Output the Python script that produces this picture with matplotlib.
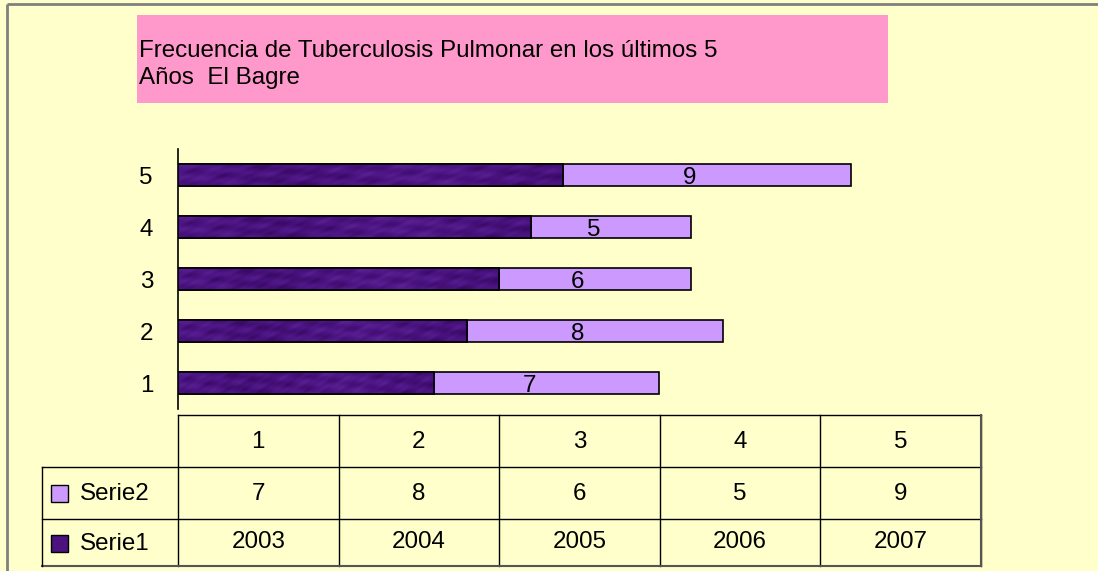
import matplotlib
matplotlib.use("Agg")
import matplotlib.pyplot as plt
import numpy as np
from matplotlib.patches import Rectangle
from matplotlib.colors import LinearSegmentedColormap

plt.rcParams['font.family'] = ['Liberation Sans', 'DejaVu Sans']

# ---- data ----
categories = ['1', '2', '3', '4', '5']
serie1 = [2003, 2004, 2005, 2006, 2007]
serie2 = [7, 8, 6, 5, 9]
series_names = ['Serie2', 'Serie1']
title_lines = ['Frecuencia de Tuberculosis Pulmonar en los últimos 5', 'Años  El Bagre']

# ---- style ----
BG = '#FFFFCC'
C1 = '#4B1280'
C2 = '#CC99FF'
PINK = '#FF99CC'
FS = 17.4

W, H = 1098, 571
fig = plt.figure(figsize=(W / 100, H / 100), dpi=100)
fig.patch.set_facecolor(BG)

def fx(px):
    return px / W

def fy(py):
    return 1 - py / H

# overlay in pixel coordinates (y down)
ov = fig.add_axes([0, 0, 1, 1], zorder=0)
ov.set_xlim(0, W)
ov.set_ylim(H, 0)
ov.axis('off')
ov.patch.set_alpha(0)

# outer frame (top and left)
ov.plot([7, W], [4, 4], color='#808080', lw=2, solid_capstyle='butt')
ov.plot([7, 7], [4, H], color='#808080', lw=2, solid_capstyle='butt')

# title box
ov.add_patch(Rectangle((137, 15), 751, 88, facecolor=PINK, edgecolor='none'))
ov.text(139, 51, title_lines[0], fontsize=FS, va='center', ha='left')
ov.text(139, 78, title_lines[1], fontsize=FS, va='center', ha='left')

# ---- bar chart ----
ax_l, ax_r, ax_t, ax_b = 178, 981, 149, 409
ax = fig.add_axes([fx(ax_l), fy(ax_b), fx(ax_r - ax_l), (ax_b - ax_t) / H], zorder=1)
ax.patch.set_alpha(0)
pos = list(range(len(categories)))
XMIN, XMAX = 1995, 2020.05
BH = 0.42
bars1 = ax.barh(pos, serie1, height=BH, color=C1, edgecolor='black', linewidth=1.2, zorder=2)
bars2 = ax.barh(pos, serie2, left=serie1, height=BH, color=C2, edgecolor='black', linewidth=1.2, zorder=2)

# deterministic mottled texture on the dark bars
tex_cmap = LinearSegmentedColormap.from_list('tex', ['#360860', '#4A1380', '#5A2294'])
gx, gy = np.meshgrid(np.linspace(0, 1, 300), np.linspace(0, 1, 24))
tex = (np.sin(gx * 61 + gy * 7) * np.cos(gx * 17 - gy * 3)
       + np.sin(gx * 23 - gy * 11 + 1.3) * 0.8
       + np.sin(gx * 137 + gy * 19 + 0.7) * np.sin(gx * 41 + 0.4) * 0.6
       + np.sin(gx * 9 + 2.1) * 0.6)
for b in bars1:
    im = ax.imshow(tex, cmap=tex_cmap, aspect='auto', interpolation='bilinear',
                   extent=[XMIN, b.get_x() + b.get_width(), b.get_y(), b.get_y() + b.get_height()],
                   zorder=2.5)
    im.set_clip_path(b)
for b in bars1:
    ax.add_patch(Rectangle((b.get_x(), b.get_y()), b.get_width(), b.get_height(),
                           facecolor='none', edgecolor='black', linewidth=1.2, zorder=3))

for p, s1, s2 in zip(pos, serie1, serie2):
    ax.annotate(str(s2), (s1 + s2 / 2, p), xytext=(-12.5, -2.5), textcoords='offset points',
                ha='center', va='center', fontsize=FS, zorder=4)
ax.set_xlim(XMIN, XMAX)
ax.set_ylim(-0.5, len(categories) - 0.5)
ax.set_yticks(pos)
ax.set_yticklabels(categories, fontsize=FS)
ax.tick_params(axis='y', length=0, pad=18)
ax.set_xticks([])
for s in ['top', 'right', 'bottom']:
    ax.spines[s].set_visible(False)
ax.spines['left'].set_linewidth(1.2)
ax.spines['left'].set_zorder(5)

# ---- data table ----
col_edges = [178 + i * (981 - 178) / len(categories) for i in range(len(categories) + 1)]
r0, r1, r2, r3 = 415, 467, 519, 566
lc = 'black'
lw = 1.0
ov.plot([178, 981], [r0, r0], color=lc, lw=lw)
for x in col_edges:
    ov.plot([x, x], [r0, r3], color=lc, lw=lw)
for y in [r1, r2]:
    ov.plot([42, 981], [y, y], color=lc, lw=lw)
ov.plot([42, 981], [r3, r3], color='#555555', lw=1.5)
ov.plot([42, 42], [r1, r3], color=lc, lw=lw)
ov.plot([981, 981], [r0, r3], color='#555555', lw=1.5)

for i, c in enumerate(categories):
    xc = (col_edges[i] + col_edges[i + 1]) / 2
    ov.text(xc, (r0 + r1) / 2 + 1, c, ha='center', va='center', fontsize=FS)
    ov.text(xc, (r1 + r2) / 2 + 1, str(serie2[i]), ha='center', va='center', fontsize=FS)
    ov.text(xc, (r2 + r3) / 2, str(serie1[i]), ha='center', va='center', fontsize=FS)

# legend keys in table
for name, col, (ya, yb) in zip(series_names, [C2, C1], [(r1, r2), (r2, r3)]):
    yc = (ya + yb) / 2
    ov.add_patch(Rectangle((51, yc - 8), 17, 17, facecolor=col, edgecolor='black', lw=1))
    ov.text(80, yc + 1, name, ha='left', va='center', fontsize=FS)

fig.savefig('out.png', dpi=100, facecolor=BG)
